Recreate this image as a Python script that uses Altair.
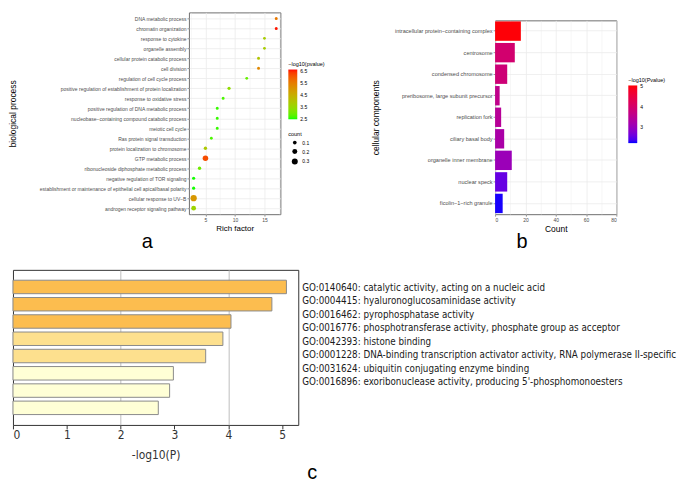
import altair as alt
import pandas as pd

# ---------------- panel a : biological process ----------------
bp_terms = [
    "DNA metabolic process", "chromatin organization", "response to cytokine",
    "organelle assembly", "cellular protein catabolic process", "cell division",
    "regulation of cell cycle process",
    "positive regulation of establishment of protein localization",
    "response to oxidative stress", "positive regulation of DNA metabolic process",
    "nucleobase\u2212containing compound catabolic process", "meiotic cell cycle",
    "Ras protein signal transduction", "protein localization to chromosome",
    "GTP metabolic process", "ribonucleoside diphosphate metabolic process",
    "negative regulation of TOR signaling",
    "establishment or maintenance of epithelial cell apical/basal polarity",
    "cellular response to UV\u2212B", "androgen receptor signaling pathway",
]
bp_rich = [17, 17, 15, 15, 14, 14, 12, 9, 8, 7, 7, 7, 6, 5, 5, 4, 3, 3, 3, 3]
bp_logp = [5.6, 6.6, 3.8, 3.8, 4.0, 5.3, 2.9, 3.4, 2.7, 2.6, 2.6, 2.6, 2.7, 3.9,
           6.2, 3.0, 2.5, 2.5, 5.0, 3.6]
bp_count = [0.06, 0.06, 0.05, 0.05, 0.06, 0.06, 0.05, 0.07, 0.06, 0.06, 0.06, 0.06,
            0.05, 0.08, 0.25, 0.08, 0.07, 0.07, 0.33, 0.18]

# ---------------- panel b : cellular components ----------------
cc_terms = [
    "intracellular protein\u2212containing complex", "centrosome", "condensed chromosome",
    "preribosome, large subunit precursor", "replication fork", "ciliary basal body",
    "organelle inner membrane", "nuclear speck", "ficolin\u22121\u2212rich granule",
]
cc_count = [17, 13, 8, 3, 4, 6, 11, 8, 5]
cc_logp = [5.0, 3.95, 3.85, 3.6, 3.45, 3.25, 3.05, 2.55, 2.25]

# ---------------- panel c : molecular function ----------------
mf_ids = ["GO:0140640", "GO:0004415", "GO:0016462", "GO:0016776",
          "GO:0042393", "GO:0001228", "GO:0031624", "GO:0016896"]
mf_names = [
    "catalytic activity, acting on a nucleic acid",
    "hyaluronoglucosaminidase activity",
    "pyrophosphatase activity",
    "phosphotransferase activity, phosphate group as acceptor",
    "histone binding",
    "DNA-binding transcription activator activity, RNA polymerase II-specific",
    "ubiquitin conjugating enzyme binding",
    "exoribonuclease activity, producing 5'-phosphomonoesters",
]
mf_logp = [5.08, 4.81, 4.05, 3.90, 3.58, 2.98, 2.91, 2.70]

FA = "Liberation Sans"
FC = "DejaVu Sans Condensed, DejaVu Sans"
GRID = "#ebebeb"
LAB = "#4d4d4d"

A_W, A_H = 92, 203
B_W, B_H = 122, 195
C_W, C_H = 287, 156
T_W = 375


def cond(test, yes, no):
    return {"condition": {"test": test, "value": yes}, "value": no}


def blank(w, h):
    return alt.Chart(pd.DataFrame({"v": [0]})).mark_point(opacity=0).encode(
        x=alt.value(0), y=alt.value(0)
    ).properties(width=w, height=h, view=alt.ViewBackground(stroke=None))


# ---------- chart a ----------
df_a = pd.DataFrame({"term": bp_terms, "rich": bp_rich, "logp": bp_logp, "count": bp_count})
chart_a = alt.Chart(df_a).mark_circle(opacity=1).encode(
    x=alt.X("rich:Q",
            scale=alt.Scale(domain=[2.2, 17.7], nice=False, zero=False),
            axis=alt.Axis(values=[2.5, 5, 7.5, 10, 12.5, 15, 17.5],
                          labelExpr="datum.value % 5 == 0 ? datum.label : ''",
                          tickOpacity=cond("datum.value % 5 == 0", 1, 0),
                          gridWidth=cond("datum.value % 5 == 0", 0.8, 0.4),
                          gridColor=GRID, domain=False,
                          tickSize=2, tickWidth=0.5, tickColor="#333",
                          labelFont=FA, labelFontSize=5, labelColor=LAB, labelPadding=1,
                          title="Rich factor", titleFont=FA, titleFontSize=8,
                          titleFontWeight="normal", titleColor="black", titlePadding=2)),
    y=alt.Y("term:N", sort=bp_terms, scale=alt.Scale(padding=0.6),
            axis=alt.Axis(grid=True, gridColor=GRID, gridWidth=0.8, domain=False,
                          tickSize=2, tickWidth=0.5, tickColor="#333",
                          labelFont=FA, labelFontSize=5, labelColor=LAB, labelPadding=1,
                          labelLimit=0,
                          title="biological process", titleFont=FA, titleFontSize=8.5,
                          titleFontWeight="normal", titleColor="black",
                          titleX=-172, titleY=A_H / 2)),
    color=alt.Color("logp:Q",
                    scale=alt.Scale(domain=[2.48, 6.65], range=["#00ff00", "#ff0000"],
                                    interpolate="lab"),
                    legend=alt.Legend(orient="none", legendX=100, legendY=50,
                                      title="\u2212log10(pvalue)", titleFont=FA,
                                      titleFontSize=5.5, titleFontWeight="normal",
                                      titleColor="black", titlePadding=2,
                                      labelFont=FA, labelFontSize=5, labelColor="black",
                                      labelOffset=3, gradientLength=50,
                                      gradientThickness=9, gradientStrokeWidth=0,
                                      values=[2.5, 3.5, 4.5, 5.5, 6.5], format=".1f",
                                      direction="vertical", labelOverlap=False)),
    size=alt.Size("count:Q",
                  scale=alt.Scale(domain=[0.05, 0.35], range=[8, 42]),
                  legend=alt.Legend(orient="none", legendX=100, legendY=120,
                                    title="count", titleFont=FA, titleFontSize=5.5,
                                    titleFontWeight="normal", titleColor="black",
                                    titlePadding=3, labelFont=FA, labelFontSize=5,
                                    labelColor="black", labelOffset=4,
                                    values=[0.1, 0.2, 0.3], format=".1f",
                                    symbolType="circle",
                                    symbolFillColor="black", symbolStrokeWidth=0,
                                    symbolOpacity=1, symbolOffset=3, rowPadding=3)),
).properties(
    width=A_W, height=A_H,
    view=alt.ViewBackground(stroke="#6e6e6e", strokeWidth=1),
    title=alt.TitleParams("a", orient="bottom", anchor="middle", frame="group",
                          font=FA, fontSize=20, fontWeight="normal", color="black",
                          dx=-88, offset=0),
)

# ---------- chart b ----------
df_b = pd.DataFrame({"term": cc_terms, "count": cc_count, "logp": cc_logp})
chart_b = alt.Chart(df_b).mark_bar().encode(
    x=alt.X("count:Q", scale=alt.Scale(domain=[0, 80], nice=False),
            axis=alt.Axis(values=[0, 10, 20, 30, 40, 50, 60, 70, 80],
                          labelExpr="datum.value % 20 == 0 ? datum.label : ''",
                          tickOpacity=cond("datum.value % 20 == 0", 1, 0),
                          gridWidth=cond("datum.value % 20 == 0", 0.8, 0.4),
                          gridColor=GRID, domain=False,
                          tickSize=2, tickWidth=0.5, tickColor="#333",
                          labelFont=FA, labelFontSize=5, labelColor=LAB, labelPadding=1,
                          title="Count", titleFont=FA, titleFontSize=8.5,
                          titleFontWeight="normal", titleColor="black", titlePadding=2)),
    y=alt.Y("term:N", sort=cc_terms,
            scale=alt.Scale(paddingInner=0.1, paddingOuter=0.05),
            axis=alt.Axis(grid=True, gridColor=GRID, gridWidth=0.8, domain=False,
                          tickSize=2, tickWidth=0.5, tickColor="#333",
                          labelFont=FA, labelFontSize=5.6, labelColor=LAB, labelPadding=1,
                          labelLimit=0,
                          title="cellular components", titleFont=FA, titleFontSize=8.5,
                          titleFontWeight="normal", titleColor="black",
                          titleX=-115, titleY=B_H / 2)),
    color=alt.Color("logp:Q",
                    scale=alt.Scale(domain=[2.23, 5.03], range=["#0000ff", "#ff0000"],
                                    interpolate="lab"),
                    legend=alt.Legend(orient="none", legendX=134, legendY=66,
                                      title="\u2212log10(Pvalue)", titleFont=FA,
                                      titleFontSize=5.5, titleFontWeight="normal",
                                      titleColor="black", titlePadding=2,
                                      labelFont=FA, labelFontSize=5, labelColor="black",
                                      labelOffset=3, gradientLength=58,
                                      gradientThickness=9, gradientStrokeWidth=0,
                                      values=[3, 4, 5], format="d", direction="vertical",
                                      labelOverlap=False)),
).properties(
    width=B_W, height=B_H,
    view=alt.ViewBackground(stroke="#6e6e6e", strokeWidth=1),
    title=alt.TitleParams("b", orient="bottom", anchor="middle", frame="group",
                          font=FA, fontSize=20, fontWeight="normal", color="black",
                          dx=-34, offset=0),
)

# ---------- chart c ----------
mf_labels = [f"{i}: {n}" for i, n in zip(mf_ids, mf_names)]
df_c = pd.DataFrame({"label": mf_labels, "logp": mf_logp})

bars_c = alt.Chart(df_c).mark_bar(stroke="#8a8a8a", strokeWidth=1).encode(
    x=alt.X("logp:Q", scale=alt.Scale(domain=[0, 5.3], nice=False),
            axis=alt.Axis(values=[0, 1, 2, 3, 4, 5], format="d",
                          grid=True, gridColor="#bdbdbd", gridWidth=1,
                          gridOpacity=cond("datum.value == 2 || datum.value == 4", 1, 0),
                          domain=False, tickSize=4, tickColor="#333", tickWidth=1,
                          labelFont=FC, labelFontSize=12, labelColor="#333",
                          labelPadding=1,
                          title="-log10(P)", titleFont=FC, titleFontSize=12,
                          titleFontWeight="normal", titleColor="#333", titlePadding=9)),
    y=alt.Y("label:N", sort=mf_labels, axis=None,
            scale=alt.Scale(paddingInner=0.22, paddingOuter=0.6)),
    color=alt.Color("logp:Q",
                    scale=alt.Scale(type="threshold", domain=[3.3, 4.0],
                                    range=["#ffffd6", "#fde08e", "#fcbd4f"]),
                    legend=None),
).properties(
    width=C_W, height=C_H,
    view=alt.ViewBackground(stroke="#333333", strokeWidth=1),
)

text_c = alt.Chart(df_c).mark_text(
    align="left", baseline="middle", font=FC, fontSize=9.8, color="#1a1a1a"
).encode(
    x=alt.value(4),
    y=alt.Y("label:N", sort=mf_labels, axis=None,
            scale=alt.Scale(range=[18, 113], padding=0)),
    text="label:N",
).properties(
    width=T_W, height=C_H, view=alt.ViewBackground(stroke=None),
    title=alt.TitleParams("c", orient="bottom", anchor="start", frame="group",
                          font=FA, fontSize=20, fontWeight="normal", color="black",
                          dx=9, offset=38),
)

# ---------- layout ----------
col_b = alt.vconcat(blank(B_W, 1), chart_b, spacing=7, bounds="flush")
ab = alt.hconcat(chart_a, col_b, spacing=216, bounds="flush").resolve_scale(
    color="independent", size="independent")
top = alt.hconcat(blank(167, 1), ab, spacing=10, bounds="flush").resolve_scale(
    color="independent", size="independent")
bottom = alt.hconcat(bars_c, text_c, spacing=0, bounds="flush").resolve_scale(
    color="independent")

chart = alt.vconcat(top, bottom, spacing=16).properties(
    padding=0, background="white"
).resolve_scale(color="independent", size="independent")

chart.save("out.html", embed_options={"renderer": "svg", "actions": False})
